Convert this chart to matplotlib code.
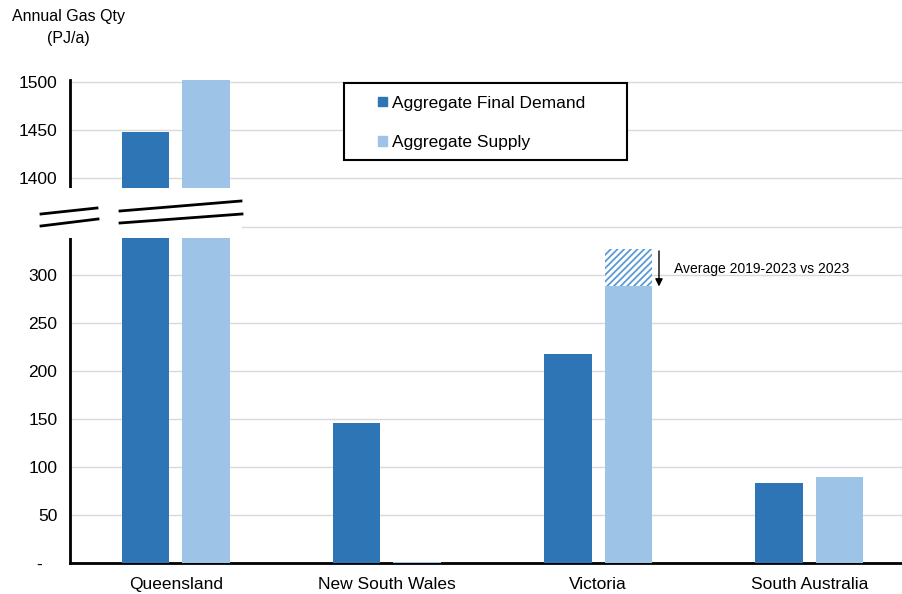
import matplotlib
matplotlib.use("Agg")
import matplotlib.pyplot as plt
from matplotlib.patches import Patch, Rectangle
from matplotlib.lines import Line2D
import numpy as np

plt.rcParams['font.family'] = ['Liberation Sans', 'DejaVu Sans']
plt.rcParams['hatch.linewidth'] = 1.3

# annual gas quantities by state (PJ/a)
states = ["Queensland", "New South Wales", "Victoria", "South Australia"]
final_demand = [1448, 146, 218, 83]
supply_2023 = [1502, 1, 288, 90]
supply_avg_2019_2023 = [np.nan, np.nan, 327, np.nan]

lower_ticks = [0, 50, 100, 150, 200, 250, 300, 350]
lower_labels = ["-   ", "50", "100", "150", "200", "250", "300", "350"]
upper_ticks = [1400, 1450, 1500]
upper_labels = ["1400", "1450", "1500"]

DARK = '#2e75b6'
LIGHT = '#9dc3e6'
GRID = '#d9d9d9'
FS = 12.5

W, H = 903, 594
fig = plt.figure(figsize=(W / 100, H / 100), dpi=100)

def fy(py):
    return 1 - py / H

left, right = 70 / W, 1.0
ax_lo = fig.add_axes([left, fy(563), right - left, fy(226) - fy(563)])
ax_hi = fig.add_axes([left, fy(188), right - left, fy(80) - fy(188)])

x = np.arange(len(states))
bw = 0.225
off = 0.143

for ax in (ax_lo, ax_hi):
    ax.bar(x - off, final_demand, bw, color=DARK, zorder=3)
    ax.bar(x + off, supply_2023, bw, color=LIGHT, zorder=3)
    ax.set_xlim(-0.5, 3.443)
    ax.grid(axis='y', color=GRID, lw=1, zorder=0)
    ax.tick_params(axis='both', length=0, labelsize=FS, colors='black')
    ax.tick_params(axis='y', pad=9)
    for s in ('top', 'right'):
        ax.spines[s].set_visible(False)
    ax.spines['left'].set_linewidth(2)

# hatched gap between the 2019-2023 average and 2023 supply
avg = np.array(supply_avg_2019_2023, dtype=float)
sup = np.array(supply_2023, dtype=float)
mask = ~np.isnan(avg)
ax_lo.bar(x[mask] + off, avg[mask] - sup[mask], bw, bottom=sup[mask],
          facecolor='white', edgecolor='#5b9bd5', hatch='/////', lw=0, zorder=3)

ax_lo.set_ylim(0, 351)
ax_lo.set_yticks(lower_ticks)
ax_lo.set_yticklabels(lower_labels)
ax_lo.set_xticks(x)
ax_lo.set_xticklabels(states)
ax_lo.tick_params(axis='x', pad=10)
ax_lo.spines['bottom'].set_linewidth(2)

ax_hi.set_ylim(1389.6, 1502)
ax_hi.set_yticks(upper_ticks)
ax_hi.set_yticklabels(upper_labels)
ax_hi.set_xticks([])
ax_hi.spines['bottom'].set_visible(False)

# annotation for Victoria supply
vi = states.index("Victoria")
ax_lo.annotate("", xy=(vi + 0.288, sup[vi]), xytext=(vi + 0.288, avg[vi] - 2),
               arrowprops=dict(arrowstyle='-|>', color='black', lw=1, mutation_scale=11,
                               shrinkA=0, shrinkB=0))
ax_lo.text(vi + 0.358, 306, "Average 2019-2023 vs 2023", fontsize=10, va='center')

# axis break: white band plus slanted marks
fig.add_artist(Rectangle((0, fy(238)), 242 / W, fy(188) - fy(238),
                         transform=fig.transFigure, facecolor='white', edgecolor='none', zorder=10))
for (x0, y0, x1, y1) in [(41, 214, 97, 208), (41, 226, 98, 219),
                         (120, 211, 241, 201), (120, 223, 242, 214)]:
    fig.add_artist(Line2D([x0 / W, x1 / W], [fy(y0), fy(y1)], transform=fig.transFigure,
                          color='black', lw=2, zorder=11))

# legend: frame drawn separately so the box can be wider than its entries
fig.add_artist(Rectangle((344 / W, fy(160)), (627 - 344) / W, fy(83) - fy(160),
                         transform=fig.transFigure, facecolor='white', edgecolor='black',
                         lw=1.5, zorder=12))
handles = [Patch(color=DARK), Patch(color=LIGHT)]
leg = fig.legend(handles, ["Aggregate Final Demand", "Aggregate Supply"],
                 loc='center left', bbox_to_anchor=(378 / W, fy(123)),
                 fontsize=FS, frameon=False,
                 handlelength=0.5, handleheight=0.5, handletextpad=0.3,
                 labelspacing=1.42, borderpad=0, borderaxespad=0)
leg.set_zorder(13)

fig.text(68 / W, fy(27.5), "Annual Gas Qty\n(PJ/a)", ha='center', va='center',
         fontsize=11.5, linespacing=1.55)

fig.savefig("out.png", dpi=100)
